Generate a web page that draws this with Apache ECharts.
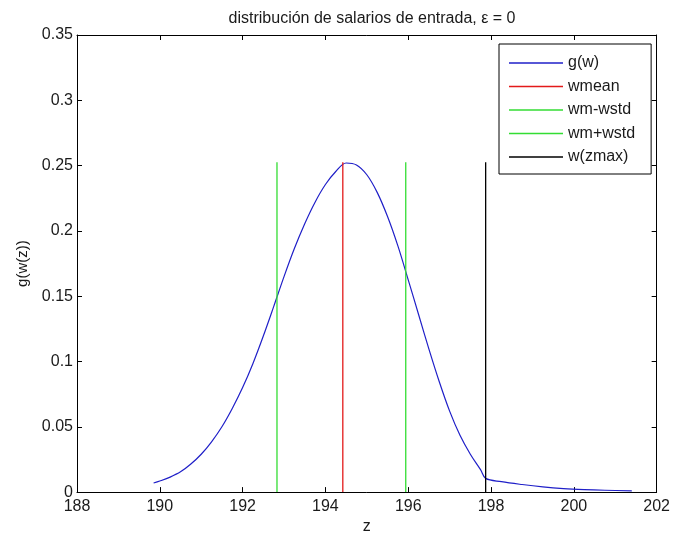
<!DOCTYPE html>
<html>
<head>
<meta charset="utf-8">
<script src="https://cdn.jsdelivr.net/npm/echarts@6/dist/echarts.min.js"></script>
<style>html,body{margin:0;padding:0;background:#fff}#c{width:673px;height:540px}</style>
</head>
<body>
<div id="c"></div>
<script>
// ---- data ----
const zValues = [189.85,190.0,190.25,190.5,190.75,191.0,191.25,191.5,191.75,192.0,192.25,192.5,192.75,193.0,193.25,193.5,193.75,194.0,194.25,194.5,194.75,195.0,195.25,195.5,195.75,196.0,196.25,196.5,196.75,197.0,197.25,197.5,197.75,197.87,198.25,198.75,199.25,199.75,200.25,200.75,201.4];
const gValues = [0.0070,0.0085,0.0115,0.0155,0.0215,0.0290,0.0385,0.0500,0.0640,0.0800,0.0985,0.1195,0.1420,0.1650,0.1865,0.2055,0.2220,0.2355,0.2455,0.2520,0.2505,0.2430,0.2295,0.2110,0.1885,0.1625,0.1360,0.1095,0.0845,0.0620,0.0435,0.0290,0.0170,0.0105,0.0080,0.0058,0.0040,0.0027,0.0019,0.0014,0.0010];
const wmean = 194.42;
const wmMinusStd = 192.83;
const wmPlusStd = 195.94;
const wZmax = 197.87;
const lineTop = 0.2525;
const seriesNames = ['g(w)','wmean','wm-wstd','wm+wstd','w(zmax)'];
const xTicks = [188,190,192,194,196,198,200,202];
const yTicks = [0,0.05,0.1,0.15,0.2,0.25,0.3,0.35];
const titleText = 'distribución de salarios de entrada, ε = 0';

const FONT = 'Liberation Sans, Arial, sans-serif';
const TXT = '#1a1a1a';
const colors = ['#1f1fc8','#e31a1a','#33dd33','#33dd33','#000000'];

const curve = zValues.map((z,i)=>[z,gValues[i]]);
const vline = x => [[x,0],[x,lineTop]];

const axisCommon = {
  type:'value', min:xTicks[0], max:xTicks[xTicks.length-1], interval:xTicks[1]-xTicks[0],
  axisLine:{show:true,onZero:false,lineStyle:{color:'#000',width:1}},
  axisTick:{show:true,inside:true,length:5,lineStyle:{color:'#000'}},
  splitLine:{show:false}
};
const yCommon = {
  type:'value', min:yTicks[0], max:yTicks[yTicks.length-1], interval:yTicks[1]-yTicks[0],
  axisLine:{show:true,onZero:false,lineStyle:{color:'#000',width:1}},
  axisTick:{show:true,inside:true,length:5,lineStyle:{color:'#000'}},
  splitLine:{show:false}
};

const chart = echarts.init(document.getElementById('c'),null,{renderer:'canvas'});
chart.setOption({
  animation:false,
  backgroundColor:'#fff',
  title:{text:titleText,left:367,top:6,textAlign:'center',
    textStyle:{fontFamily:FONT,fontSize:16,fontWeight:'normal',color:TXT}},
  grid:{left:77,top:35,width:580,height:458,containLabel:false},
  legend:{
    orient:'vertical', left:499, top:44,
    data:seriesNames.map(n=>({name:n,icon:'rect'})),
    itemWidth:54, itemHeight:1.5, itemGap:5.5,
    padding:[10,16,8,10],
    borderColor:'#000', borderWidth:1, backgroundColor:'#fff',
    textStyle:{fontFamily:FONT,fontSize:16,color:TXT,lineHeight:18},
    selectedMode:false
  },
  xAxis:[
    Object.assign({},axisCommon,{position:'bottom',name:'z',nameLocation:'middle',nameGap:26,
      nameTextStyle:{fontFamily:FONT,fontSize:16,color:TXT},
      axisLabel:{show:true,fontFamily:FONT,fontSize:16,color:TXT,margin:6,showMinLabel:true,showMaxLabel:true,
        formatter:v=>String(v)}}),
    Object.assign({},axisCommon,{position:'top',axisLabel:{show:false}})
  ],
  yAxis:[
    Object.assign({},yCommon,{position:'left',name:'g(w(z))',nameLocation:'middle',nameGap:47,
      nameTextStyle:{fontFamily:FONT,fontSize:15,color:TXT},
      axisLabel:{show:true,fontFamily:FONT,fontSize:16,color:TXT,margin:4,showMinLabel:true,showMaxLabel:true,
        formatter:v=>String(+v.toFixed(2))}}),
    Object.assign({},yCommon,{position:'right',axisLabel:{show:false}})
  ],
  series:[
    {name:seriesNames[0],type:'line',data:curve,smooth:0.35,showSymbol:false,lineStyle:{color:colors[0],width:1.2},itemStyle:{color:colors[0]},z:3},
    {name:seriesNames[1],type:'line',data:vline(wmean),showSymbol:false,lineStyle:{color:colors[1],width:1.3},itemStyle:{color:colors[1]}},
    {name:seriesNames[2],type:'line',data:vline(wmMinusStd),showSymbol:false,lineStyle:{color:colors[2],width:1.3},itemStyle:{color:colors[2]}},
    {name:seriesNames[3],type:'line',data:vline(wmPlusStd),showSymbol:false,lineStyle:{color:colors[3],width:1.3},itemStyle:{color:colors[3]}},
    {name:seriesNames[4],type:'line',data:vline(wZmax),showSymbol:false,lineStyle:{color:colors[4],width:1.3},itemStyle:{color:colors[4]}}
  ]
});
</script>
</body>
</html>
